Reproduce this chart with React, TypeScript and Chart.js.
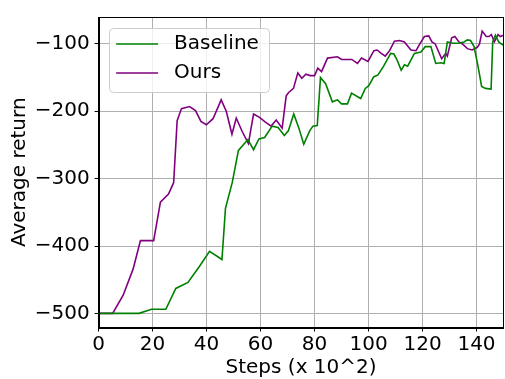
import React, { useEffect, useRef } from "react";
import { Chart, registerables } from "chart.js";

Chart.register(...registerables);

const baselineSteps = [0, 15, 19.6, 24.9, 28.6, 33.1, 37.4, 41.1, 45.7, 47, 49.5, 51.8, 55.3, 57.4, 59.4, 61.5, 64.3, 66.5, 68.8, 70.3, 72.3, 74.2, 76, 78.2, 79.4, 81, 82.2, 84.1, 86.6, 88.5, 90, 92.2, 93.7, 97.1, 98.8, 100.1, 101.9, 103.5, 105.6, 108.2, 109.4, 110.6, 112.1, 113.3, 114.5, 117, 119.4, 121, 123.1, 124.9, 126.8, 128, 129.2, 131.3, 133.3, 135.4, 136.6, 137.8, 139.1, 140.6, 141.9, 143.3, 145.4, 146, 147, 148.2, 150];
const baselineValues = [-500, -500, -494, -494, -463, -454, -430, -408, -420, -344, -306, -258, -242, -257, -241, -239, -222, -224, -236, -229, -204, -225, -249, -229, -222, -221, -150, -159, -186, -183, -189, -189, -173, -181, -166, -162, -149, -146, -133, -114, -115, -124, -139, -131, -133, -114, -112, -104, -104, -129, -128, -129, -97, -99, -99, -97, -94, -95, -104, -134, -163, -166, -167, -97, -87, -97, -102];

const oursSteps = [0, 5.2, 9.1, 12.8, 15.5, 20.4, 22.9, 25.9, 27.8, 29.1, 30.7, 33.7, 35.9, 37.9, 39.9, 42.4, 45.4, 47.3, 49.4, 51, 53.2, 55.5, 57.4, 59.6, 61.8, 63.9, 65.8, 68, 69.5, 70.4, 72.2, 73.8, 75.3, 76.8, 78.4, 80, 81.2, 82.6, 84.8, 88.5, 90, 93.8, 95.9, 97.4, 99.8, 102, 103.2, 104.7, 106.2, 107.8, 109.6, 111.5, 113.3, 115.7, 117.6, 119, 120.7, 122.3, 123.5, 124.7, 127.1, 128.6, 129.2, 130.8, 132, 133.5, 134.8, 136.6, 138.4, 140.3, 141.1, 142.1, 143.6, 144.6, 145.5, 146.6, 148, 148.8, 150];
const oursValues = [-500, -500, -473, -434, -392, -392, -335, -323, -306, -214, -196, -193, -199, -215, -220, -211, -183, -200, -234, -210, -230, -248, -204, -209, -216, -222, -213, -225, -177, -172, -166, -143, -151, -145, -147, -147, -136, -141, -121, -119, -123, -123, -129, -121, -126, -110, -109, -114, -118, -110, -96, -95, -97, -109, -110, -100, -89, -88, -97, -100, -122, -114, -118, -91, -89, -97, -100, -107, -109, -105, -100, -81, -89, -89, -86, -97, -86, -89, -87];

const xTicks = [0, 20, 40, 60, 80, 100, 120, 140];
const yTicks = [-500, -400, -300, -200, -100];
const seriesNames = ["Baseline", "Ours"];
const seriesColors = ["#008000", "#800080"];

const FONT = "'DejaVu Sans', sans-serif";
const FS = 20;

const framePlugin = {
  id: "frameAndLegend",
  afterDraw(chart: any) {
    const ctx = chart.ctx;
    const { left, top, right, bottom } = chart.chartArea;
    ctx.save();
    ctx.strokeStyle = "#000";
    ctx.lineWidth = 1;
    ctx.strokeRect(Math.round(left) + 0.5, Math.round(top) + 0.5, Math.round(right - left) - 1, Math.round(bottom - top));
    // legend
    const lx = left + 10;
    const ly = top + 10.5;
    const lw = 160;
    const lh = 64;
    ctx.beginPath();
    (ctx as any).roundRect(Math.round(lx) + 0.5, Math.round(ly) + 0.5, lw, lh, 4);
    ctx.fillStyle = "rgba(255,255,255,0.8)";
    ctx.fill();
    ctx.strokeStyle = "#cccccc";
    ctx.stroke();
    ctx.font = `${FS}px ${FONT}`;
    ctx.textBaseline = "middle";
    ctx.textAlign = "left";
    seriesNames.forEach((name, i) => {
      const y = ly + 16.5 + i * 29;
      ctx.beginPath();
      ctx.strokeStyle = seriesColors[i];
      ctx.lineWidth = 1.6;
      ctx.moveTo(lx + 7.5, y);
      ctx.lineTo(lx + 49.5, y);
      ctx.stroke();
      ctx.fillStyle = "#000";
      ctx.fillText(name, lx + 65.5, y);
    });
    ctx.restore();
  },
};

const fmt = (v: number) => (v < 0 ? "\u2212" + Math.abs(v) : String(v));

export default function App() {
  const ref = useRef<HTMLCanvasElement | null>(null);
  useEffect(() => {
    if (!ref.current) return;
    const chart = new Chart(ref.current, {
      type: "line",
      data: {
        datasets: [
          {
            label: seriesNames[0],
            data: baselineSteps.map((s, i) => ({ x: s, y: baselineValues[i] })),
            borderColor: seriesColors[0],
            borderWidth: 1.6,
            pointRadius: 0,
            tension: 0,
            fill: false,
          },
          {
            label: seriesNames[1],
            data: oursSteps.map((s, i) => ({ x: s, y: oursValues[i] })),
            borderColor: seriesColors[1],
            borderWidth: 1.6,
            pointRadius: 0,
            tension: 0,
            fill: false,
          },
        ],
      },
      options: {
        responsive: false,
        animation: false,
        layout: { padding: { top: 14.5, right: 1.5, bottom: 0, left: 0 } },
        plugins: { legend: { display: false }, tooltip: { enabled: false } },
        scales: {
          x: {
            type: "linear",
            min: 0,
            max: 150,
            afterBuildTicks: (s: any) => {
              s.ticks = xTicks.map((v) => ({ value: v }));
            },
            afterFit: (s: any) => {
              s.height = 51.5;
            },
            ticks: { font: { family: FONT, size: FS }, color: "#000", padding: 1, maxRotation: 0, callback: (v: any) => fmt(Number(v)) },
            grid: { color: "#b0b0b0", lineWidth: 1, tickLength: 4, tickColor: "#000" },
            border: { display: true, color: "#000", width: 1 },
            title: { display: true, text: "Steps (x 10^2)", font: { family: FONT, size: FS, lineHeight: 1.1 }, color: "#000", padding: { top: 0, bottom: 0 } },
          },
          y: {
            type: "linear",
            min: -521,
            max: -60,
            afterBuildTicks: (s: any) => {
              s.ticks = yTicks.map((v) => ({ value: v }));
            },
            afterFit: (s: any) => {
              s.width = 98.6;
            },
            ticks: { font: { family: FONT, size: FS }, color: "#000", padding: 5, callback: (v: any) => fmt(Number(v)) },
            grid: { color: "#b0b0b0", lineWidth: 1, tickLength: 4, tickColor: "#000" },
            border: { display: true, color: "#000", width: 1 },
            title: { display: true, text: "Average return", font: { family: FONT, size: FS }, color: "#000", padding: { top: 8, bottom: 0 } },
          },
        },
      },
      plugins: [framePlugin],
    });
    return () => chart.destroy();
  }, []);
  return (
    <div style={{ position: "absolute", left: 0, top: 0, width: 505, height: 379, background: "#fff" }}>
      <canvas ref={ref} width={505} height={379} style={{ width: 505, height: 379 }} />
    </div>
  );
}
